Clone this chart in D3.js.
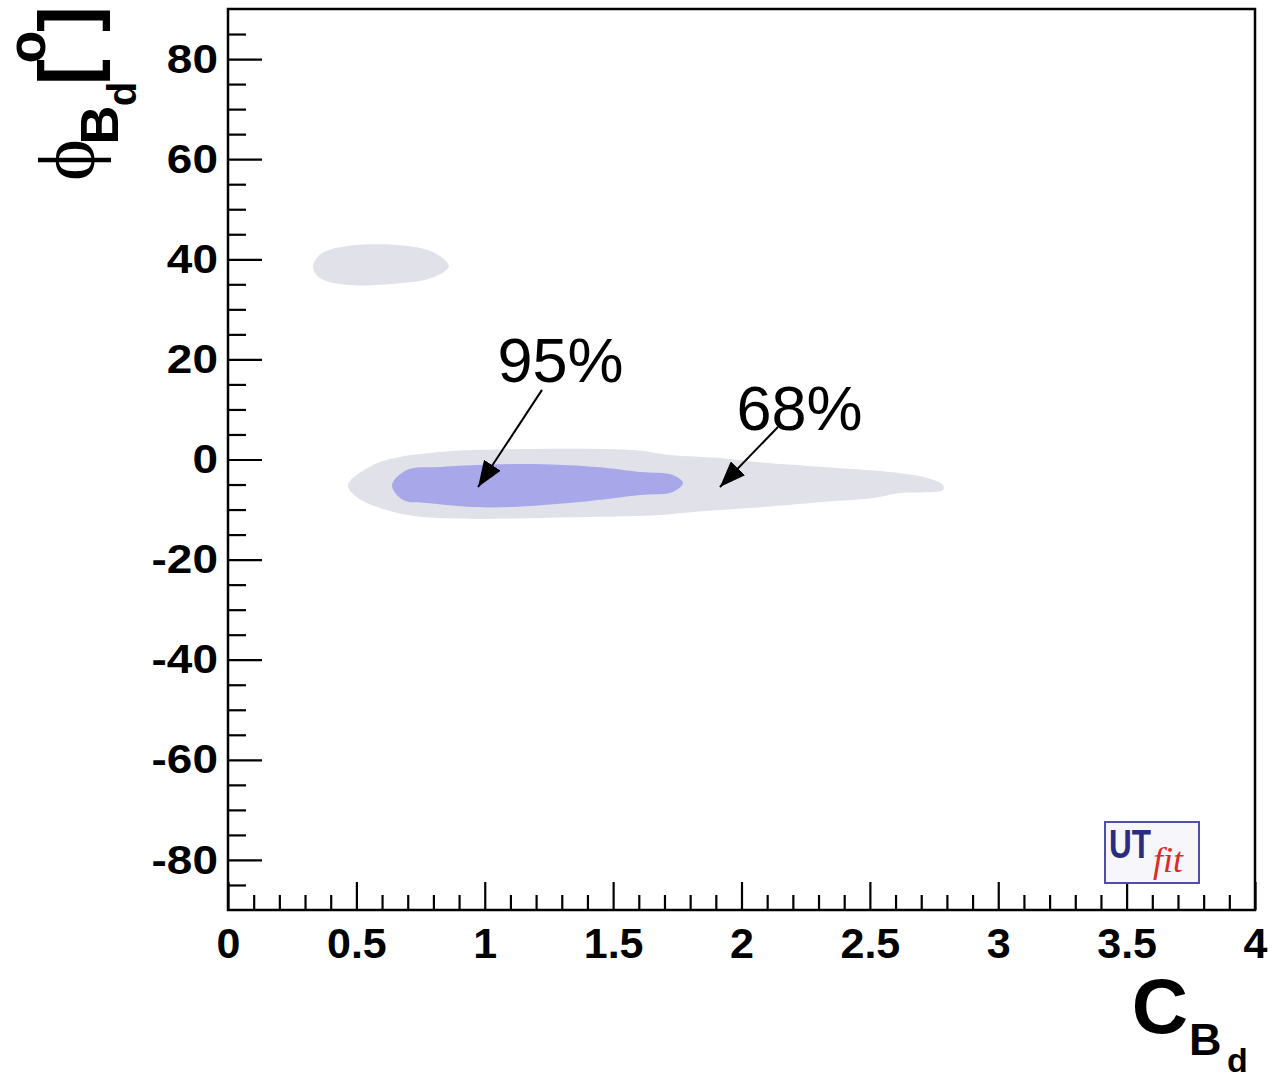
<!DOCTYPE html>
<html>
<head>
<meta charset="utf-8">
<script src="https://cdn.jsdelivr.net/npm/d3@7"></script>
<style>
  body { margin: 0; background: #fff; }
  svg { display: block; }
</style>
</head>
<body>
<script>
// axis ticks
var xMajorTicks = [0, 0.5, 1, 1.5, 2, 2.5, 3, 3.5, 4];
var yMajorTicks = [-80, -60, -40, -20, 0, 20, 40, 60, 80];

// contour outlines, [C_Bd, phi_Bd] pairs
var outerMain = [[0.467, -5.1], [0.502, -7.5], [0.592, -9.7], [0.759, -11.5], [1.398, -11.5],
    [1.683, -11.1], [1.811, -10.5], [2.033, -9.7], [2.317, -8.5], [2.512, -7.7], [2.617, -6.7],
    [2.785, -6.1], [2.785, -5.1], [2.723, -3.7], [2.578, -2.5], [2.317, -1.5], [2.06, -0.5],
    [1.916, 0.3], [1.722, 0.9], [1.577, 1.9], [0.954, 1.9], [0.826, 1.5], [0.67, 0.5], [0.565, -1.1]];
var outerIsland = [[0.331, 38.4], [0.36, 36.2], [0.46, 34.9], [0.67, 35.2], [0.8, 36.4],
    [0.86, 38.6], [0.8, 41.4], [0.67, 42.8], [0.46, 42.6], [0.36, 41.0]];
var innerMain = [[0.639, -5.1], [0.682, -8.1], [0.775, -8.7], [0.954, -9.5], [1.098, -9.5],
    [1.371, -8.5], [1.605, -7.1], [1.733, -6.5], [1.772, -4.7], [1.733, -3.1], [1.605, -2.5],
    [1.437, -1.5], [1.149, -0.9], [0.826, -1.5], [0.697, -2.1]];

// annotations
var labelText = ["95%", "68%"];
var labelAt = [[1.295, 15.5], [2.226, 5.9]];
var arrowFrom = [[1.223, 13.9], [2.142, 6.5]];
var arrowTo = [[0.974, -5.5], [1.916, -5.5]];

function drawChart() {
    var width = 1272, height = 1075;
    var plotLeft = 228, plotRight = 1255, plotTop = 9, plotBottom = 910;
    var fontAxis = "'Liberation Sans', Arial, sans-serif";

    var svg = d3.select("body").append("svg")
        .attr("width", width)
        .attr("height", height);

    var x = d3.scaleLinear().domain([0, 4]).range([plotLeft, plotRight]);
    var y = d3.scaleLinear().domain([-90, 90]).range([plotBottom, plotTop]);

    var line = d3.line()
        .x(function (d) { return x(d[0]); })
        .y(function (d) { return y(d[1]); })
        .curve(d3.curveCatmullRomClosed.alpha(0.5));

    // regions
    svg.selectAll("path.outer")
        .data([outerMain, outerIsland])
        .enter().append("path")
        .attr("class", "outer")
        .attr("d", line)
        .attr("fill", "#e1e1ea");

    svg.append("path")
        .datum(innerMain)
        .attr("d", line)
        .attr("fill", "#a8a7ea");

    // axes (plain hyphen for negatives, like the original)
    var yAxis = svg.append("g")
        .attr("transform", "translate(" + plotLeft + ",0)")
        .call(d3.axisLeft(y).tickValues(yMajorTicks).tickSize(-34).tickPadding(9)
            .tickFormat(function (d) { return String(d); }));
    var yMinor = svg.append("g")
        .attr("transform", "translate(" + plotLeft + ",0)")
        .call(d3.axisLeft(y).tickValues(d3.range(-85, 90, 5).filter(function (v) { return v % 20 !== 0; }))
            .tickSize(-18).tickFormat(""));

    var xAxis = svg.append("g")
        .attr("transform", "translate(0," + plotBottom + ")")
        .call(d3.axisBottom(x).tickValues(xMajorTicks).tickSize(-28).tickPadding(17)
            .tickFormat(function (d) { return String(d); }));
    var xMinor = svg.append("g")
        .attr("transform", "translate(0," + plotBottom + ")")
        .call(d3.axisBottom(x).tickValues(d3.range(1, 40).map(function (v) { return v / 10; })
            .filter(function (v) { return Math.round(v * 10) % 5 !== 0; }))
            .tickSize(-15).tickFormat(""));

    [yAxis, yMinor, xAxis, xMinor].forEach(function (g) {
        g.select(".domain").remove();
        g.selectAll(".tick line").attr("stroke", "#000").attr("stroke-width", 2.2);
    });
    yAxis.selectAll("text")
        .attr("font-family", fontAxis).attr("font-weight", "bold")
        .attr("font-size", 41).attr("fill", "#000")
        .attr("transform", "scale(1.12,1)");
    xAxis.selectAll("text")
        .attr("font-family", fontAxis).attr("font-weight", "bold")
        .attr("font-size", 43).attr("fill", "#000");

    // frame
    svg.append("rect")
        .attr("x", plotLeft).attr("y", plotTop)
        .attr("width", plotRight - plotLeft).attr("height", plotBottom - plotTop)
        .attr("fill", "none").attr("stroke", "#000").attr("stroke-width", 2.5);

    // arrows and labels
    svg.append("defs").append("marker")
        .attr("id", "head")
        .attr("viewBox", "0 -10 26 20")
        .attr("refX", 26).attr("refY", 0)
        .attr("markerWidth", 26).attr("markerHeight", 20)
        .attr("markerUnits", "userSpaceOnUse")
        .attr("orient", "auto")
        .append("path")
        .attr("d", "M0,-10L26,0L0,10Z")
        .attr("fill", "#000");

    svg.selectAll("line.arrow")
        .data(arrowFrom)
        .enter().append("line")
        .attr("class", "arrow")
        .attr("x1", function (d) { return x(d[0]); })
        .attr("y1", function (d) { return y(d[1]); })
        .attr("x2", function (d, i) { return x(arrowTo[i][0]); })
        .attr("y2", function (d, i) { return y(arrowTo[i][1]); })
        .attr("stroke", "#000").attr("stroke-width", 2)
        .attr("marker-end", "url(#head)");

    svg.selectAll("text.label")
        .data(labelText)
        .enter().append("text")
        .attr("class", "label")
        .attr("x", function (d, i) { return x(labelAt[i][0]); })
        .attr("y", function (d, i) { return y(labelAt[i][1]); })
        .attr("text-anchor", "middle")
        .attr("font-family", fontAxis)
        .attr("font-size", 63)
        .text(function (d) { return d; });

    // x axis title: C_{B_d}
    var xt = svg.append("g").attr("font-family", fontAxis).attr("font-weight", "bold").attr("fill", "#000");
    xt.append("text").attr("x", 1188).attr("y", 1033).attr("text-anchor", "end").attr("font-size", 78).text("C");
    xt.append("text").attr("x", 1189).attr("y", 1055).attr("font-size", 45).text("B");
    xt.append("text").attr("x", 1227).attr("y", 1072).attr("font-size", 34).text("d");

    // y axis title: phi_{B_d} [^o], rotated
    var yt = svg.append("g")
        .attr("transform", "rotate(-90)")
        .attr("font-family", fontAxis).attr("font-weight", "bold").attr("fill", "#000")
        .attr("text-anchor", "middle");
    yt.append("text").attr("x", -160).attr("y", 94)
        .attr("font-family", "'Liberation Serif', 'DejaVu Serif', serif").attr("font-weight", "normal")
        .attr("font-size", 80).text("\u03d5");
    yt.append("text").attr("x", -125).attr("y", 118).attr("font-size", 54).text("B");
    yt.append("text").attr("x", -94).attr("y", 136).attr("font-size", 40).text("d");
    yt.append("text").attr("x", -72).attr("y", 94).attr("font-size", 78).text("[");
    yt.append("text").attr("x", -47).attr("y", 45).attr("font-size", 54).text("o");
    yt.append("text").attr("x", -19).attr("y", 94).attr("font-size", 78).text("]");

    // UTfit logo
    var logo = svg.append("g");
    logo.append("rect")
        .attr("x", 1105).attr("y", 822).attr("width", 94).attr("height", 61)
        .attr("fill", "#f7f6fb").attr("stroke", "#4f4fa8").attr("stroke-width", 2);
    logo.append("text")
        .attr("x", 1109).attr("y", 858)
        .attr("font-family", fontAxis).attr("font-weight", "bold")
        .attr("font-size", 40).attr("fill", "#2c2c7e")
        .attr("textLength", 42).attr("lengthAdjust", "spacingAndGlyphs")
        .text("UT");
    logo.append("text")
        .attr("x", 1153).attr("y", 872)
        .attr("font-family", "'Liberation Serif', serif").attr("font-style", "italic")
        .attr("font-size", 36).attr("fill", "#dd2a2a")
        .text("fit");
}

drawChart();
</script>
</body>
</html>
